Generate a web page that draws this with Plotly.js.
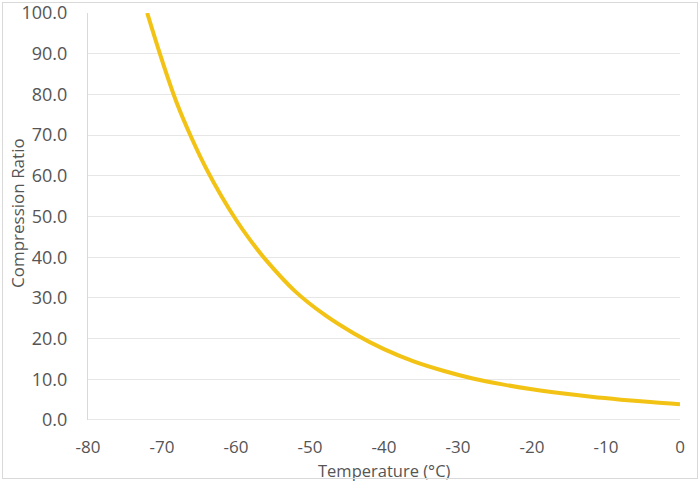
<!DOCTYPE html>
<html>
<head>
<meta charset="utf-8">
<script src="https://cdn.plot.ly/plotly-3.0.1.min.js"></script>
<style>
html,body{margin:0;padding:0;background:#fff;}
#wrap{position:relative;width:700px;height:482px;}
#chart{width:700px;height:482px;}
#frame{position:absolute;left:2px;top:2px;right:2px;bottom:3px;border:1px solid #d9d9d9;pointer-events:none;}
</style>
</head>
<body>
<div id="wrap"><div id="chart"></div><div id="frame"></div></div>
<script>
const temperature = [-72, -70, -68, -66, -64, -62, -60, -58, -56, -52, -48, -44, -40, -36, -32, -28, -24, -20, -16, -12, -8, -4, 0];
const compressionRatio = [100, 88.4, 77.9, 69.3, 61.7, 55.1, 49.2, 44.0, 39.4, 31.6, 25.8, 21.2, 17.4, 14.4, 12.1, 10.2, 8.75, 7.55, 6.55, 5.7, 5.0, 4.4, 3.9];
const xTicks = [-80, -70, -60, -50, -40, -30, -20, -10, 0];
const yTicks = [0, 10, 20, 30, 40, 50, 60, 70, 80, 90, 100];
const xTitle = 'Temperature (°C)';
const yTitle = 'Compression Ratio';

const fam = 'Open Sans, sans-serif';
const txt = '#555555';
Plotly.newPlot('chart', [{
  x: temperature, y: compressionRatio, type: 'scatter', mode: 'lines',
  line: {color: '#F2C314', width: 4, shape: 'spline', smoothing: 1.0},
  hoverinfo: 'skip'
}], {
  width: 700, height: 482,
  margin: {l: 88, r: 20, t: 13, b: 62},
  paper_bgcolor: '#fff', plot_bgcolor: '#fff',
  showlegend: false,
  font: {family: fam, color: txt},
  xaxis: {
    range: [-80, 0], tickvals: xTicks, ticktext: xTicks.map(String),
    showgrid: false, zeroline: false, showline: false,
    ticks: 'outside', ticklen: 12, tickcolor: 'rgba(0,0,0,0)',
    tickfont: {size: 17, color: txt, family: fam}
  },
  yaxis: {
    range: [0, 100], tickvals: yTicks, ticktext: yTicks.map(v => v.toFixed(1)),
    showgrid: true, gridcolor: '#e6e6e6', gridwidth: 1,
    zeroline: false, showline: true, linecolor: '#d9d9d9', linewidth: 1,
    ticks: 'outside', ticklen: 16, tickcolor: 'rgba(0,0,0,0)',
    tickfont: {size: 18, color: txt, family: fam}
  },
  annotations: [
    {text: xTitle, xref: 'paper', yref: 'paper', x: (384 - 88) / 592, y: -50 / 407,
     xanchor: 'center', yanchor: 'middle', showarrow: false, borderpad: 0,
     font: {size: 16.5, color: txt, family: fam}},
    {text: yTitle, xref: 'paper', yref: 'paper', x: (18 - 88) / 592, y: (420 - 213) / 407,
     xanchor: 'center', yanchor: 'middle', textangle: -90, showarrow: false,
     font: {size: 17, color: txt, family: fam}}
  ],
  shapes: [{type: 'line', xref: 'paper', yref: 'y', x0: 0, x1: 1, y0: 0, y1: 0, line: {color: '#d0d0d0', width: 1}, layer: 'below'}]
}, {displayModeBar: false, staticPlot: true});
</script>
</body>
</html>
